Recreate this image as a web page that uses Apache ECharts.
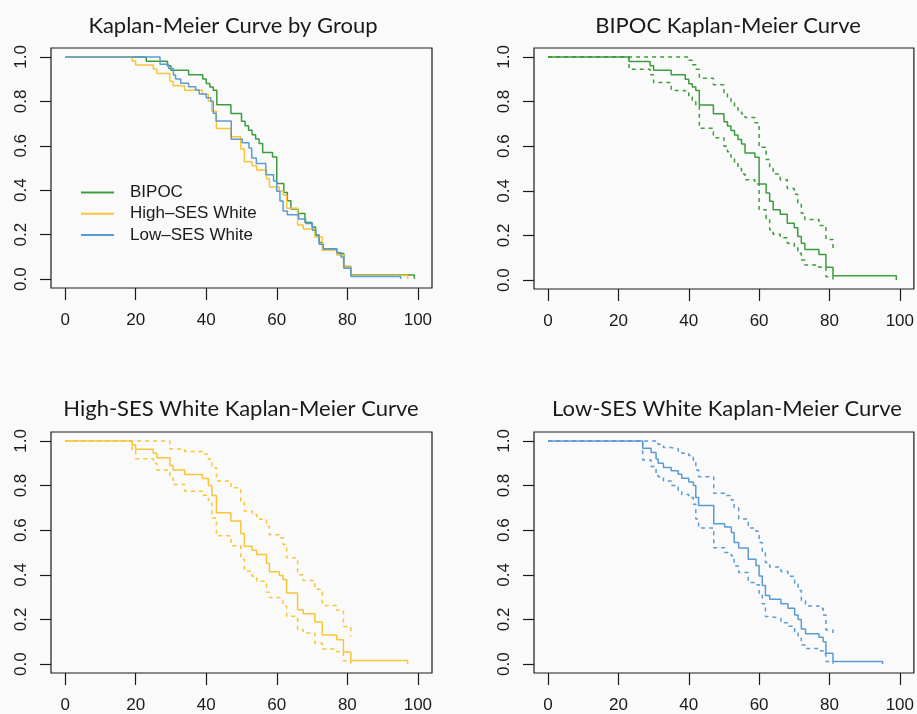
<!DOCTYPE html>
<html>
<head>
<meta charset="utf-8">
<script src="https://cdn.jsdelivr.net/npm/echarts@6/dist/echarts.min.js"></script>
<style>
  html, body { margin: 0; padding: 0; background: #fafafa; }
  #chart { width: 917px; height: 714px; }
</style>
</head>
<body>
<div id="chart"></div>
<script>
// tick values
const xTicks = [0, 20, 40, 60, 80, 100];
const yTicks = [0, 0.2, 0.4, 0.6, 0.8, 1.0];

// BIPOC: event times, survival, confidence bounds (null = no bound)
const bipocTime  = [0, 23, 29, 30, 35, 39, 40, 41, 42, 43, 47, 50, 51, 52, 53, 54, 55, 56, 58.8, 60, 62, 63, 64, 66, 68, 70, 71, 72, 73, 77, 79, 81, 99];
const bipocSurv  = [1, 0.98, 0.96, 0.94, 0.92, 0.90, 0.88, 0.865, 0.85, 0.785, 0.745, 0.71, 0.69, 0.67, 0.65, 0.63, 0.61, 0.57, 0.55, 0.43, 0.39, 0.353, 0.315, 0.295, 0.255, 0.235, 0.195, 0.165, 0.137, 0.115, 0.057, 0.019, 0];
const bipocUpper = [1, 1, 1, 1, 1, 1, 0.985, 0.965, 0.945, 0.905, 0.875, 0.84, 0.815, 0.80, 0.78, 0.76, 0.745, 0.728, 0.705, 0.595, 0.54, 0.50, 0.475, 0.45, 0.41, 0.385, 0.345, 0.30, 0.272, 0.245, 0.182, 0.135, null];
const bipocLower = [1, 0.945, 0.92, 0.885, 0.85, 0.84, 0.82, 0.80, 0.78, 0.68, 0.638, 0.60, 0.575, 0.55, 0.525, 0.50, 0.475, 0.45, 0.43, 0.315, 0.275, 0.225, 0.205, 0.19, 0.165, 0.15, 0.12, 0.09, 0.068, 0.058, 0.015, 0.003, null];

// High-SES White
const highTime  = [0, 19, 20, 25, 26, 29.7, 30.6, 33.9, 38.9, 40.6, 41.6, 42.9, 47, 49.8, 50.8, 53, 54.3, 57.1, 57.9, 60.7, 61.8, 62.8, 65.9, 67.5, 70.8, 72.9, 77, 78.9, 81, 97.1];
const highSurv  = [1, 0.982, 0.963, 0.945, 0.925, 0.89, 0.87, 0.85, 0.832, 0.80, 0.755, 0.678, 0.641, 0.585, 0.528, 0.51, 0.491, 0.452, 0.414, 0.397, 0.379, 0.319, 0.244, 0.225, 0.189, 0.13, 0.109, 0.054, 0.016, 0];
const highUpper = [1, 1, 1, 1, 1, 0.964, 0.964, 0.953, 0.941, 0.919, 0.88, 0.82, 0.79, 0.73, 0.686, 0.67, 0.649, 0.618, 0.58, 0.566, 0.536, 0.476, 0.40, 0.375, 0.335, 0.263, 0.241, 0.168, 0.124, null];
const highLower = [1, 0.955, 0.92, 0.90, 0.87, 0.835, 0.805, 0.775, 0.757, 0.735, 0.655, 0.575, 0.53, 0.47, 0.416, 0.394, 0.371, 0.322, 0.298, 0.29, 0.259, 0.214, 0.154, 0.139, 0.094, 0.067, 0.055, 0.015, 0.003, null];

// Low-SES White
const lowTime  = [0, 26.9, 29.3, 30.7, 31.3, 32.8, 35, 37, 38, 40, 41.3, 42, 42.8, 47.1, 50.2, 52.1, 52.9, 54.2, 56.9, 59.1, 60, 60.9, 61.8, 63, 66.2, 68.2, 70.1, 71.1, 72, 73.2, 77, 78.2, 79, 81, 95.1];
const lowSurv  = [1, 0.967, 0.948, 0.919, 0.90, 0.881, 0.866, 0.851, 0.833, 0.816, 0.80, 0.746, 0.711, 0.629, 0.614, 0.59, 0.545, 0.52, 0.47, 0.442, 0.395, 0.352, 0.307, 0.29, 0.27, 0.25, 0.22, 0.20, 0.157, 0.136, 0.12, 0.10, 0.049, 0.012, 0];
const lowUpper = [1, 1, 1, 1, 0.985, 0.97, 0.965, 0.955, 0.945, 0.935, 0.905, 0.87, 0.84, 0.765, 0.755, 0.735, 0.70, 0.65, 0.61, 0.595, 0.545, 0.50, 0.455, 0.435, 0.415, 0.394, 0.36, 0.33, 0.285, 0.26, 0.25, 0.22, 0.153, 0.124, null];
const lowLower = [1, 0.915, 0.885, 0.855, 0.84, 0.82, 0.80, 0.778, 0.76, 0.746, 0.716, 0.65, 0.61, 0.521, 0.50, 0.485, 0.44, 0.41, 0.366, 0.356, 0.317, 0.27, 0.213, 0.205, 0.185, 0.17, 0.139, 0.117, 0.085, 0.07, 0.06, 0.045, 0.012, 0.002, null];

const groupNames = ['BIPOC', 'High\u2013SES White', 'Low\u2013SES White'];
const titles = ['Kaplan-Meier Curve by Group', 'BIPOC Kaplan-Meier Curve', 'High-SES White Kaplan-Meier Curve', 'Low-SES White Kaplan-Meier Curve'];

const GREEN = '#3e9b3e';
const GOLD = '#f8c43a';
const BLUE = '#5b9bd3';
const INK = '#1a1a1a';
const labelFont = 'Liberation Sans';

// zip times and values, dropping steps where the bound is undefined
function pairs(times, vals) {
    return times.map((t, i) => [t, vals[i]]).filter(p => p[1] !== null);
}

const grids = [
    { left: 51, top: 48, width: 381, height: 240 },
    { left: 534, top: 48, width: 381, height: 241 },
    { left: 51, top: 432, width: 381, height: 242 },
    { left: 534, top: 432, width: 380, height: 241 }
];
const titlePos = [[233, 15], [728, 15], [241, 398], [727, 398]];

function stepLine(name, data, gridIdx, color, dashed) {
    return {
        name: name,
        type: 'line',
        step: 'end',
        xAxisIndex: gridIdx,
        yAxisIndex: gridIdx,
        data: data,
        symbol: 'none',
        silent: true,
        lineStyle: { color: color, width: 1.5, type: dashed ? [4, 4] : 'solid' },
        itemStyle: { color: color }
    };
}

const series = [
    stepLine(groupNames[0], pairs(bipocTime, bipocSurv), 0, GREEN, false),
    stepLine(groupNames[1], pairs(highTime, highSurv), 0, GOLD, false),
    stepLine(groupNames[2], pairs(lowTime, lowSurv), 0, BLUE, false),

    stepLine('bipoc', pairs(bipocTime, bipocSurv), 1, GREEN, false),
    stepLine('bipoc upper', pairs(bipocTime, bipocUpper), 1, GREEN, true),
    stepLine('bipoc lower', pairs(bipocTime, bipocLower), 1, GREEN, true),

    stepLine('high', pairs(highTime, highSurv), 2, GOLD, false),
    stepLine('high upper', pairs(highTime, highUpper), 2, GOLD, true),
    stepLine('high lower', pairs(highTime, highLower), 2, GOLD, true),

    stepLine('low', pairs(lowTime, lowSurv), 3, BLUE, false),
    stepLine('low upper', pairs(lowTime, lowUpper), 3, BLUE, true),
    stepLine('low lower', pairs(lowTime, lowLower), 3, BLUE, true)
];

const chart = echarts.init(document.getElementById('chart'));

const option = {
    backgroundColor: '#fafafa',
    animation: false,
    title: titles.map((t, i) => ({
        text: t,
        left: titlePos[i][0],
        top: titlePos[i][1],
        textAlign: 'center',
        padding: 0,
        textStyle: { fontFamily: 'Lato', fontSize: 22, fontWeight: 'normal', color: INK }
    })),
    legend: {
        data: groupNames,
        orient: 'vertical',
        left: 81,
        top: 184,
        padding: 0,
        itemGap: 4.3,
        itemWidth: 33,
        itemHeight: 2,
        icon: 'rect',
        selectedMode: false,
        textStyle: { fontFamily: labelFont, fontSize: 17, lineHeight: 17, color: INK, padding: [0, 0, 0, 11] }
    },
    grid: grids.map(g => Object.assign({ show: true, borderColor: INK, borderWidth: 1.2, backgroundColor: 'transparent' }, g)),
    // axes sit on the box edges (onZero off), ticks point outward like R
    xAxis: grids.map((g, i) => ({
        gridIndex: i,
        type: 'value',
        min: -4,
        max: 104,
        axisLine: { show: false, onZero: false },
        splitLine: { show: false },
        axisTick: { show: true, customValues: xTicks, length: 12, lineStyle: { color: INK, width: 1.2 } },
        axisLabel: { customValues: xTicks, margin: 24, fontFamily: labelFont, fontSize: 17, color: INK }
    })),
    yAxis: grids.map((g, i) => ({
        gridIndex: i,
        type: 'value',
        min: -0.04,
        max: 1.04,
        axisLine: { show: false, onZero: false },
        splitLine: { show: false },
        axisTick: { show: true, customValues: yTicks, length: 11, lineStyle: { color: INK, width: 1.2 } },
        axisLabel: {
            customValues: yTicks,
            rotate: 90,
            margin: 21,
            fontFamily: labelFont,
            fontSize: 17,
            color: INK,
            formatter: v => v.toFixed(1)
        }
    })),
    series: series
};

chart.setOption(option);
</script>
</body>
</html>
